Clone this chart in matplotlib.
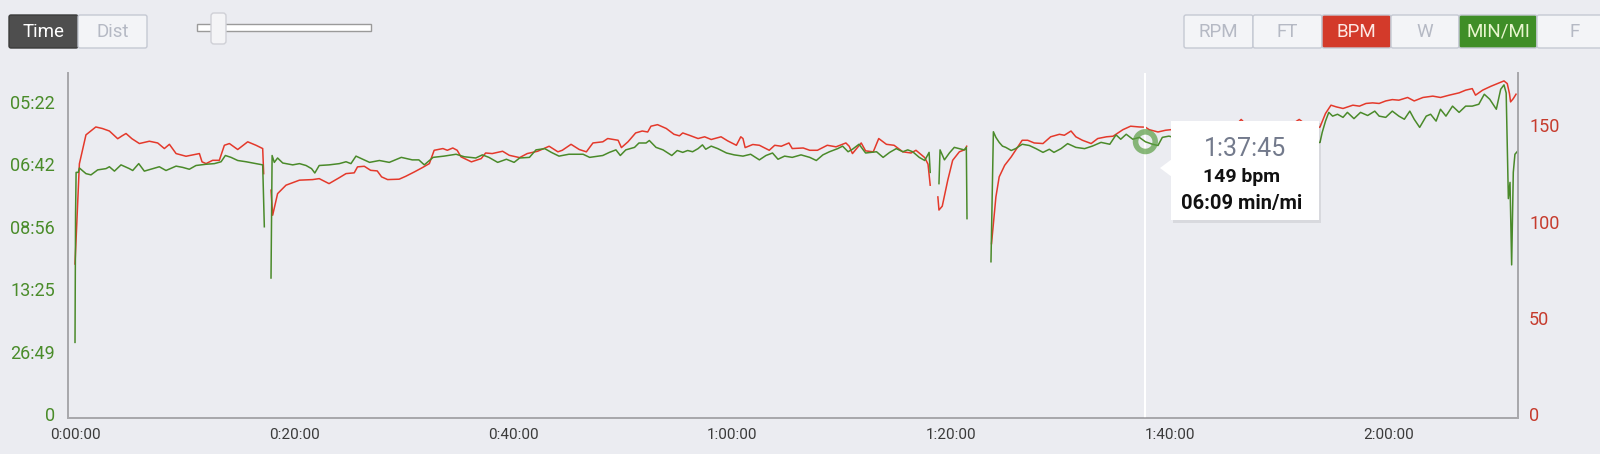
import numpy as np
import matplotlib.pyplot as plt
from matplotlib.patches import FancyBboxPatch, Rectangle, Polygon
from matplotlib.ticker import FuncFormatter

nan = np.nan

# heart rate (minutes, bpm) - nan marks a gap in the recording
hr_time = [0, 0.4, 1.0, 1.9, 2.5, 3.14, 3.9, 4.3, 4.66, 5.2, 5.88, 6.79, 7.55, 8.16, 8.62, 9.23,
           10.14, 11.36, 11.6, 11.97, 12.57, 13.18, 13.64, 14.1, 14.86, 15.77, 16.53, 17.14, 17.23, 17.5,
           17.9, 18.05, 18.5, 19.27, 20.5, 21.7, 22.3, 23.2, 24.14, 24.75, 25.5, 25.8, 26.42, 27.0,
           27.6, 28.0, 28.55, 29.6, 30.2, 31.0, 31.75, 32.36, 32.8, 33.6, 34.0, 34.5, 34.9, 35.25,
           36.2, 37.1, 37.5, 38.1, 39.05, 39.66, 40.6, 41.3, 42.25, 43.3, 44.1, 44.5, 45.3, 46.05,
           46.7, 47.3, 48.2, 48.65, 49.6, 49.9, 50.5, 51.2, 51.8, 52.3, 52.6, 53.2, 54.0, 54.7, 55.2,
           55.5, 56.1, 56.9, 57.5, 58.1, 59.0, 59.6, 60.4, 60.8, 61.0, 61.2, 61.9, 62.5, 63.4, 63.9,
           64.5, 65.2, 65.5, 66.5, 67.1, 67.8, 68.7, 69.5, 70.4, 70.7, 71.0, 71.8, 72.2, 72.9, 73.4,
           74.1, 74.8, 75.6, 76.35, 76.8, 77.6, 77.9, 78.1, 78.4,
           78.8, 78.9, 79.2, 79.7, 80.15, 80.76, 81.3, 81.43, 82.0,
           83.7, 83.87, 84.1, 84.4, 84.9, 85.5, 85.9, 86.5, 87.0, 87.6, 88.4, 89.1, 89.9, 90.35,
           90.96, 91.4, 92.0, 92.8, 93.4, 94.2, 94.8, 95.7, 96.4, 97.2, 97.75, 98.1, 98.9, 99.6,
           100.1, 101, 102, 103, 104, 105, 106, 106.5, 107, 108, 109, 110, 111, 111.8, 112.5, 113.2,
           113.7, 114.2, 114.7, 115.2, 115.8, 116.7, 117.3, 117.9, 118.5, 119.1, 119.7, 120.3, 120.9,
           121.7, 122.3, 123.1, 124.0, 124.7, 125.5, 126.4, 127.0, 127.6, 127.9, 128.55, 129.3,
           129.9, 130.5, 130.8, 131.0, 131.1, 131.35, 131.6]
hr_bpm = [78, 130, 145, 149.1, 148.3, 147.0, 143.0, 144.5, 145.7, 143, 140.5, 141.7, 140.8, 137.9, 140.1, 135.3,
          133.9, 135.3, 131.0, 130.1, 131.8, 131.8, 139.6, 140.5, 137.4, 141.4, 139.6, 137.9, 124.9, nan,
          116.3, 103.3, 114.5, 118.9, 121.5, 121.8, 122.3, 119.7, 122.8, 124.9, 125.3, 128.4, 128.7, 126.6,
          126.3, 123.2, 121.8, 122.0, 123.5, 125.8, 128.1, 130.1, 137.0, 137.9, 137.0, 138.2, 137.0, 133.6,
          131.0, 132.7, 135.6, 135.3, 136.5, 134.4, 133.2, 135.3, 136.5, 139.1, 136.2, 137.0, 140.1, 137.4,
          136.2, 140.8, 141.4, 143.1, 142.2, 138.4, 141.4, 146.0, 147.0, 146.5, 149.5, 150.3, 148.3, 145.3, 144.5,
          146.0, 144.8, 143.1, 144.0, 142.6, 144.0, 141.9, 139.6, 144.0, 143.1, 138.4, 140.0, 139.6, 137.0, 139.6,
          139.1, 140.8, 137.9, 138.2, 137.0, 137.0, 139.6, 138.8, 140.8, 139.1, 135.3, 140.8, 136.7, 136.2, 143.1,
          140.1, 139.6, 136.2, 135.6, 137.0, 133.2, 129.8, 118.9, nan,
          112.8, 106, 108, 121.4, 131.8, 136.2, 137.4, 139.1, nan,
          88.6, 99, 112.8, 123.2, 129.2, 133.6, 137.0, 142.2, 142.2, 140.8, 140.5, 144.0, 145.3, 144.8,
          147.0, 144.0, 142.2, 140.5, 143.1, 144.0, 144.3, 147.7, 149.5, 149.1, 149, 147.7, 146.5, 147.4,
          147.7, 149, 148, 150, 149, 151, 150, 153, 150, 151, 150, 151.5, 150, 153, 150, 148,
          149.1, 156.1, 160.4, 159.5, 158.7, 160.4, 159.9, 161.3, 161.6, 161.3, 162.6, 163.3, 163.0,
          164.4, 162.6, 164.4, 165.1, 164.4, 165.6, 166.8, 168.2, 169.0, 165.6, 168.2, 170.2,
          171.6, 173.0, 171.6, 166.4, 162.1, 163.8, 166.1]

# speed (minutes, m/s) - shown on the left axis as pace
spd_time = [0, 0.05, 0.1, 0.3, 0.4, 1.0, 1.46, 2.07, 2.83, 3.14, 3.6, 4.2, 4.96, 5.27, 5.82, 6.33, 7.1,
            7.7, 8.31, 9.23, 9.83, 10.44, 11.05, 11.97, 12.73, 13.34, 13.73, 14.25, 14.86, 15.62, 16.53,
            17.14, 17.29, 17.5,
            17.9, 18.0, 18.2, 18.5, 18.97, 19.88, 20.5, 21.1, 21.6, 21.9, 22.3, 23.2, 24.14, 24.75, 25.2,
            25.66, 26.9, 27.8, 28.7, 29.8, 30.8, 31.4, 31.9, 32.7, 33.7, 34.8, 35.55, 36.6, 37.2, 37.8,
            38.6, 39.4, 40.1, 40.6, 41.5, 42.1, 42.9, 43.5, 44.2, 45.1, 46.4, 47.0, 48.2, 48.8, 49.4,
            49.8, 50.3, 51.1, 51.5, 52.15, 52.45, 53.06, 53.7, 54.5, 55.0, 55.5, 55.95, 56.4, 56.9, 57.3,
            57.6, 58.1, 58.7, 59.5, 60.2, 61.0, 61.7, 62.5, 63.1, 63.7, 64.2, 64.8, 65.5, 66.3, 67.1,
            67.7, 68.3, 68.9, 69.65, 70.1, 70.6, 71.0, 71.6, 72.2, 73.2, 73.8, 74.4, 75.0, 75.6, 76.05,
            76.5, 77.1, 77.6, 78.0, 78.1, 78.4,
            78.9, 79.0, 79.2, 79.4, 79.85, 80.3, 80.76, 81.2, 81.4, 81.46, 82.0,
            83.65, 83.87, 84.1, 84.4, 84.7, 85.0, 85.5, 85.9, 86.5, 87.15, 87.76, 88.4, 88.98, 89.4,
            90.05, 90.65, 91.4, 92.2, 92.9, 93.7, 94.5, 95.07, 95.5, 96.0, 96.6, 97.2, 97.75, 98.4,
            98.9, 99.3, 99.9, 101, 102, 103, 104, 105, 106, 107, 108, 109, 110, 111, 112, 113, 113.7,
            113.9, 114.2, 114.5, 114.85, 115.3, 115.8, 116.2, 116.8, 117.4, 118.05, 118.7, 119.1,
            119.7, 120.3, 120.9, 121.4, 121.9, 122.3, 122.8, 123.4, 123.8, 124.3, 124.7, 125.2, 125.8,
            126.4, 127.0, 127.6, 128.2, 128.7, 129.2, 129.8, 130.2, 130.5, 130.7, 130.9, 131.05,
            131.2, 131.35, 131.5, 131.8]
speed_ms = [1.15, 3.2, 3.87, 3.87, 3.94, 3.85, 3.83, 3.91, 3.93, 3.96, 3.89, 3.99, 3.93, 3.90, 4.01, 3.89, 3.93,
            3.96, 3.90, 3.97, 3.95, 3.92, 3.98, 4.00, 4.01, 4.04, 4.14, 4.11, 4.06, 4.04, 4.01,
            3.99, 3.00, nan,
            2.18, 4.14, 4.03, 4.10, 4.02, 3.99, 4.01, 3.98, 3.93, 3.86, 3.98, 3.99, 4.01, 4.04, 4.01,
            4.13, 4.03, 4.06, 4.03, 4.11, 4.07, 4.07, 3.99, 4.11, 4.13, 4.16, 4.12, 4.10, 4.15, 4.11,
            4.03, 4.08, 4.03, 4.10, 4.11, 4.23, 4.25, 4.19, 4.13, 4.16, 4.16, 4.11, 4.14, 4.19, 4.23,
            4.14, 4.23, 4.27, 4.34, 4.34, 4.38, 4.27, 4.23, 4.14, 4.22, 4.19, 4.22, 4.20, 4.25, 4.31,
            4.24, 4.29, 4.25, 4.18, 4.15, 4.13, 4.16, 4.07, 4.14, 4.18, 4.08, 4.13, 4.11, 4.15, 4.11,
            4.06, 4.15, 4.20, 4.25, 4.29, 4.20, 4.24, 4.32, 4.18, 4.20, 4.11, 4.19, 4.25, 4.20, 4.23,
            4.20, 4.11, 4.06, 4.19, 3.87, nan,
            3.69, 4.23, 4.15, 4.07, 4.18, 4.27, 4.25, 4.23, 4.27, 3.13, nan,
            2.44, 4.52, 4.43, 4.35, 4.29, 4.27, 4.22, 4.25, 4.32, 4.30, 4.25, 4.19, 4.24, 4.19,
            4.25, 4.33, 4.27, 4.25, 4.29, 4.35, 4.32, 4.47, 4.40, 4.48, 4.40, 4.43, 4.36, 4.32,
            4.30, 4.43, 4.45, 4.40, 4.45, 4.38, 4.42, 4.40, 4.46, 4.40, 4.44, 4.39, 4.45, 4.42, 4.38, 4.33, 4.35,
            4.51, 4.69, 4.83, 4.77, 4.80, 4.75, 4.83, 4.73, 4.83, 4.78, 4.85, 4.77,
            4.75, 4.85, 4.77, 4.72, 4.85, 4.72, 4.59, 4.77, 4.80, 4.69, 4.88, 4.77, 4.93,
            4.83, 4.93, 4.93, 4.96, 5.12, 5.04, 4.88, 5.20, 5.27, 5.14, 3.45, 3.71,
            2.39, 3.87, 4.16, 4.22]

speed_ticks = [0, 1, 2, 3, 4, 5]
bpm_ticks = [0, 50, 100, 150]
time_ticks = [0, 20, 40, 60, 80, 100, 120]
time_labels = ['0:00:00', '0:20:00', '0:40:00', '1:00:00', '1:20:00', '1:40:00', '2:00:00']

hover_time = 97.75
hover_label = '1:37:45'
hover_bpm = 149
hover_pace = '06:09'

METERS_PER_MILE = 1609.344
bg = '#ebecf1'
red = '#e4392b'
green = '#4a8a2a'

plt.rcParams['font.family'] = ['Roboto', 'DejaVu Sans']


def pace(v, pos=None):
    if v <= 0:
        return '0'
    s = int(round(METERS_PER_MILE / v))
    return f'{s // 60:02d}:{s % 60:02d}'


fig = plt.figure(figsize=(16, 4.54), dpi=100, facecolor=bg)
ax = fig.add_axes([68 / 1600, 36 / 454, 1450 / 1600, 345 / 454])
ax2 = ax.twinx()
ax.set_zorder(ax2.get_zorder() + 1)
ax.patch.set_visible(False)
ax2.set_facecolor(bg)

ax2.plot(hr_time, hr_bpm, color=red, lw=1.1)
ax.plot(spd_time, speed_ms, color=green, lw=1.1)

# hover cursor
hover_speed = METERS_PER_MILE / (int(hover_pace[:2]) * 60 + int(hover_pace[3:]))
ax.axvline(hover_time, color='white', lw=1.5, zorder=0)
ax.scatter([hover_time], [hover_speed], s=200, facecolors='none',
           edgecolors='#5b9e45', linewidths=4, alpha=0.7, zorder=5)

ax.set_xlim(-0.64, 131.78)
ax.set_ylim(-0.06, 5.46)
ax2.set_ylim(-1.9, 177.1)

ax.set_xticks(time_ticks)
ax.set_xticklabels(time_labels)
ax.set_yticks(speed_ticks)
ax.yaxis.set_major_formatter(FuncFormatter(pace))
ax2.set_yticks(bpm_ticks)

ax.tick_params(axis='x', length=0, pad=7, labelsize=11, labelcolor='#3a3a3a')
ax.tick_params(axis='y', length=0, pad=9.5, labelsize=13, labelcolor='#4a8c2a')
ax2.tick_params(axis='y', length=0, pad=8, labelsize=13, labelcolor='#c63b2d')

for a in (ax, ax2):
    a.spines['top'].set_visible(False)
    for s in ('left', 'right', 'bottom'):
        a.spines[s].set_color('#a8a8ac')
        a.spines[s].set_linewidth(1.3)

# overlay in pixel coordinates for the controls and tooltip
ui = fig.add_axes([0, 0, 1, 1], zorder=10)
ui.set_xlim(0, 1600)
ui.set_ylim(454, 0)
ui.axis('off')


def button(x0, x1, fc, text, tc, ec='#c5c9d3'):
    ui.add_patch(FancyBboxPatch((x0, 15), x1 - x0, 33, boxstyle='round,pad=0,rounding_size=2',
                                fc=fc, ec=ec, lw=1))
    ui.text((x0 + x1) / 2, 32, text, color=tc, fontsize=13.5, ha='center', va='center')


button(9, 78, '#4e4e4e', 'Time', 'white', ec='#3a3a3a')
button(78, 147, '#f3f4f7', 'Dist', '#b5b9c4')

# slider
ui.add_patch(Rectangle((197, 24), 174, 7, fc='white', ec='#9a9a9a', lw=1))
ui.add_patch(FancyBboxPatch((211, 13), 15, 31, boxstyle='round,pad=0,rounding_size=3',
                            fc='#f4f4f6', ec='#cfd0d6', lw=1))

button(1184, 1253, '#f3f4f7', 'RPM', '#b5b9c4')
button(1253, 1322, '#f3f4f7', 'FT', '#b5b9c4')
button(1322, 1391, '#d33a2a', 'BPM', '#fde8e4', ec='#c5c9d3')
button(1391, 1459, '#f3f4f7', 'W', '#b5b9c4')
button(1459, 1537, '#3f8e27', 'MIN/MI', '#e9f6cf', ec='#c5c9d3')
button(1537, 1612, '#f3f4f7', 'F', '#b5b9c4')

# tooltip
ui.add_patch(Rectangle((1173, 123), 148, 100, fc='#000000', alpha=0.08, lw=0))
ui.add_patch(Rectangle((1171, 121), 148, 99, fc='white', lw=0))
ui.add_patch(Polygon([[1160, 168], [1172, 159], [1172, 177]], closed=True, fc='white', lw=0))
ui.text(1245, 149, hover_label, fontsize=18, color='#737a8c', ha='center', va='center')
ui.text(1242, 177, f'{hover_bpm} bpm', fontsize=14, color='#111111', ha='center', va='center',
        fontweight='bold')
ui.text(1242, 203, f'{hover_pace} min/mi', fontsize=14.5, color='#111111', ha='center', va='center',
        fontweight='bold')

fig.savefig('out.png', dpi=100, facecolor=bg)
